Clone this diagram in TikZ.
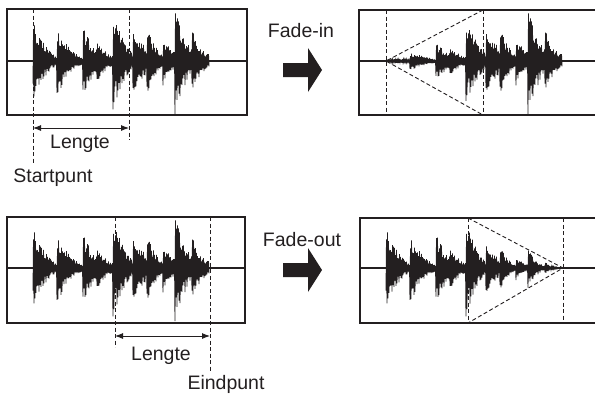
\documentclass[tikz,border=0pt]{standalone}
\usepackage{fontspec}
\setmainfont{Liberation Sans}
\usetikzlibrary{arrows.meta}
\definecolor{ink}{RGB}{35,31,32}
\newcommand\wavedraw[3]{%
  \pgfmathsetseed{7}%
  \draw[wavestyle] plot[domain=0:176, samples=353]
    ({#1+\x},{#2+env(\x)*(#3)*(0.5+0.5*rnd)*(1-2*mod(round(2*\x),2))});%
}
\begin{document}
\begin{tikzpicture}[x=1pt,y=-1pt,
  declare function={
    dk(\u)=max(0,1-(\u)/30);
    bb(\t,\s)=(\t>=\s)*dk(\t-\s)*dk(\t-\s);
    env(\t)=3+37*bb(\t,0)+32*bb(\t,24)+30*bb(\t,50)+10*bb(\t,64)+44*bb(\t,80)+32*bb(\t,100)+22*bb(\t,114)+18*bb(\t,130)+45*bb(\t,142)+20*bb(\t,159);
  },
  frame/.style={draw=ink, line width=1.7pt},
  axisline/.style={draw=ink, line width=1.1pt},
  guide/.style={draw=ink, line width=0.9pt, dash pattern=on 4pt off 2.5pt},
  wavestyle/.style={draw=ink, line width=0.85pt, line join=miter, miter limit=6},
  lbl/.style={text=ink, font=\fontsize{19.5}{22}\selectfont, inner sep=0pt, anchor=base},
  span/.style={draw=ink, line width=0.9pt, {Latex[length=8pt,width=6pt]}-{Latex[length=8pt,width=6pt]}},
  blockarrow/.style={fill=ink}]
\useasboundingbox (0,0) rectangle (595,394);

% ---------- top left: original, start point ----------
\draw[frame] (7,9) rectangle (247,115);
\draw[axisline] (7,61) -- (247,61);
\wavedraw{33}{61}{1}
\coordinate (s1t) at (33,9);  \coordinate (s1b) at (33,164);
\coordinate (e1t) at (129,9); \coordinate (e1b) at (129,140);
\draw[guide] (s1t) -- (s1b);
\draw[guide] (e1t) -- (e1b);
\coordinate (l1a) at (33,128); \coordinate (l1b) at (129,128);
\draw[span] (l1a) -- (l1b);
\node[lbl] (lengte1) at (80,148) {Lengte};
\node[lbl] (startpunt) at (53,182) {Startpunt};

% ---------- fade-in arrow ----------
\node[lbl] (fadein) at (301,37) {Fade-in};
\fill[blockarrow] (283,63) -- (308,63) -- (308,48) -- (322,70) -- (308,92) -- (308,77) -- (283,77) -- cycle;

% ---------- top right: fade-in result ----------
\draw[frame] (359,10) rectangle (605,115);
\draw[axisline] (359,61) -- (605,61);
\wavedraw{386}{61}{min(1,\x/97)}
\coordinate (a1) at (386,61);
\coordinate (t1t) at (483,10); \coordinate (t1b) at (483,115);
\coordinate (f1t) at (386,10); \coordinate (f1b) at (386,115);
\draw[guide] (f1t) -- (f1b);
\draw[guide] (t1t) -- (t1b);
\draw[guide] (t1t) -- (a1) -- (t1b);

% ---------- bottom left: original, end point ----------
\draw[frame] (7,217) rectangle (245,323);
\draw[axisline] (7,268) -- (245,268);
\wavedraw{33}{268}{1}
\coordinate (s2t) at (115,217); \coordinate (s2b) at (115,347);
\coordinate (e2t) at (210,217); \coordinate (e2b) at (210,372);
\draw[guide] (s2t) -- (s2b);
\draw[guide] (e2t) -- (e2b);
\coordinate (l2a) at (115,336); \coordinate (l2b) at (210,336);
\draw[span] (l2a) -- (l2b);
\node[lbl] (lengte2) at (161,360) {Lengte};
\node[lbl] (eindpunt) at (226,389) {Eindpunt};

% ---------- fade-out arrow ----------
\node[lbl] (fadeout) at (302,246) {Fade-out};
\fill[blockarrow] (283,263) -- (308,263) -- (308,248) -- (322,270) -- (308,292) -- (308,277) -- (283,277) -- cycle;

% ---------- bottom right: fade-out result ----------
\draw[frame] (360,218) rectangle (605,323);
\draw[axisline] (360,268) -- (605,268);
\wavedraw{386}{268}{min(1,max(0,(177-\x)/95))}
\coordinate (a2) at (563,268);
\coordinate (t2t) at (468,218); \coordinate (t2b) at (468,323);
\coordinate (f2t) at (563,218); \coordinate (f2b) at (563,323);
\draw[guide] (t2t) -- (t2b);
\draw[guide] (f2t) -- (f2b);
\draw[guide] (t2t) -- (a2) -- (t2b);
\end{tikzpicture}
\end{document}
